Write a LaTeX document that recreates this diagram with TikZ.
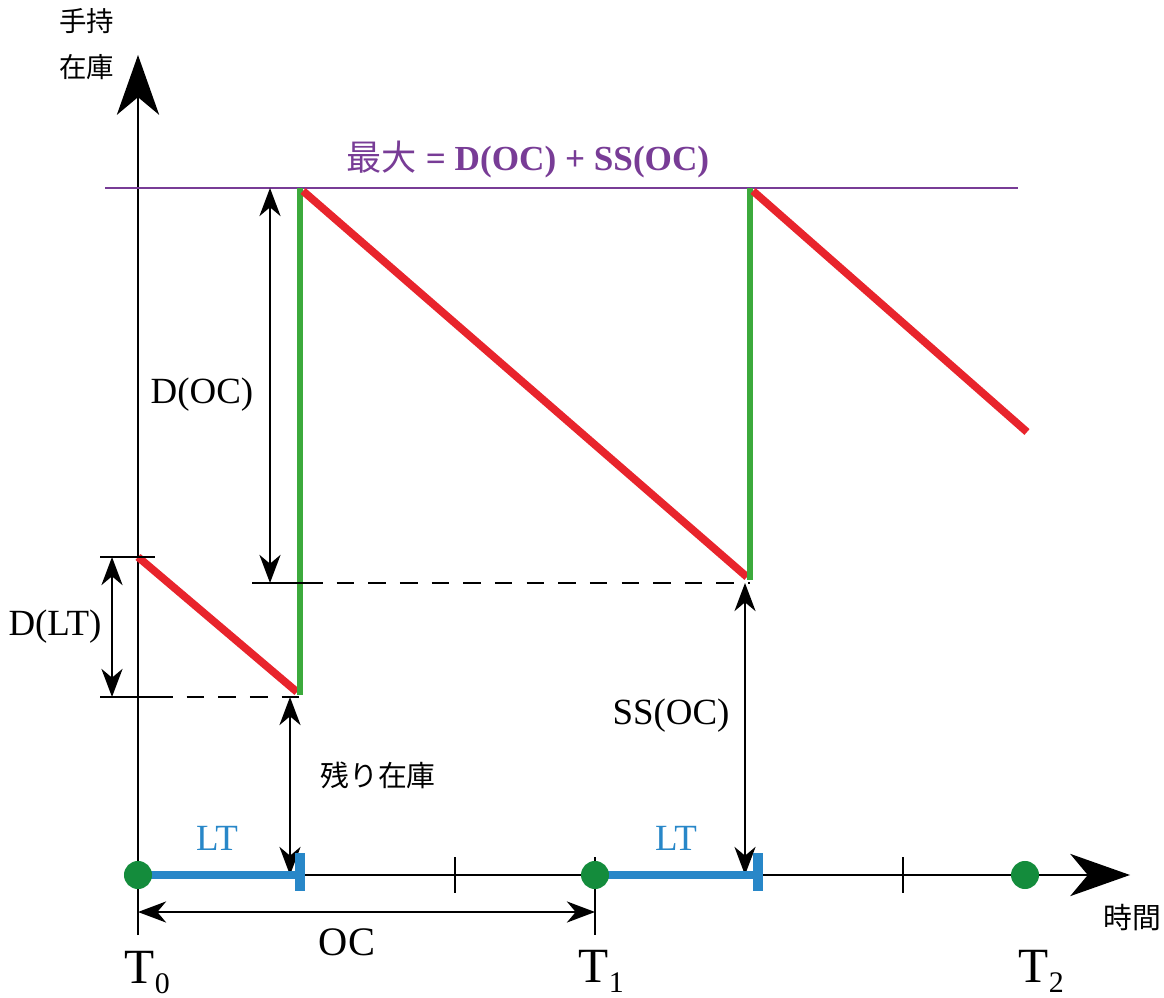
\documentclass[tikz,border=0pt]{standalone}
\usepackage{fontspec}
\setmainfont{Liberation Serif}
\newfontfamily\jp{Noto Sans CJK JP}
\usepackage{xcolor}
\usetikzlibrary{arrows.meta,positioning,calc}

\definecolor{invred}{RGB}{232,36,44}
\definecolor{invgreen}{RGB}{60,170,60}
\definecolor{invblue}{RGB}{40,135,200}
\definecolor{invpurple}{RGB}{120,60,150}
\definecolor{dotgreen}{RGB}{20,140,60}

\newcommand{\tsub}[1]{\raisebox{-3pt}{\fontsize{8.5pt}{9pt}\selectfont #1}}

\begin{document}
\begin{tikzpicture}[
    x=0.01cm, y=-0.01cm,
    axis/.style={draw=black, line width=0.7pt},
    bigtip/.style={-{Stealth[length=17pt, width=12pt, inset=5pt]}},
    dim/.style={draw=black, line width=0.6pt, {Stealth[length=8pt, width=6pt, inset=2.5pt]}-{Stealth[length=8pt, width=6pt, inset=2.5pt]}},
    tick/.style={draw=black, line width=0.7pt},
    guide/.style={draw=black, line width=0.7pt, dash pattern=on 5pt off 4pt},
    usage/.style={draw=invred, line width=2.2pt},
    refill/.style={draw=invgreen, line width=1.8pt},
    leadtime/.style={draw=invblue, line width=2pt},
    event/.style={circle, fill=dotgreen, inner sep=0pt, minimum size=0.28cm},
    lbl/.style={font=\fontsize{10.5pt}{12pt}\selectfont, inner sep=1pt},
    jplbl/.style={font=\jp\fontsize{8.2pt}{10pt}\selectfont, inner sep=1pt},
    tlbl/.style={font=\fontsize{14pt}{16pt}\selectfont, inner sep=0pt, anchor=base west}
]
    \useasboundingbox (0,0) rectangle (1164,998);

    % Axes
    \coordinate (ytop) at (138,55);
    \coordinate (ybot) at (138,935);
    \coordinate (xend) at (1130,875);
    \draw[axis, bigtip] (ybot) -- (ytop);
    \draw[axis, bigtip] (138,875) -- (xend);
    \node[jplbl, align=center, font=\jp\fontsize{7.8pt}{10pt}\selectfont] (ylab) at (87,44) {手持\\[3pt]在庫};
    \node[jplbl] (xlab) at (1132,918) {時間};

    % Ticks on time axis
    \draw[tick] (455,857) -- (455,893);
    \draw[tick] (903,857) -- (903,893);
    \draw[tick] (595,857) -- (595,935);

    % Maximum level
    \coordinate (maxl) at (105,188);
    \coordinate (maxr) at (1018,188);
    \draw[draw=invpurple, line width=0.8pt] (maxl) -- (maxr);
    \node[lbl, text=invpurple, font=\bfseries\fontsize{10pt}{12pt}\selectfont] (maxlab) at (528,160)
        {{\jp\mdseries 最大} = D(OC) + SS(OC)};

    % Inventory path
    \coordinate (a1) at (138,557);
    \coordinate (b1) at (300,695);
    \coordinate (c1) at (300,188);
    \coordinate (b2) at (750,580);
    \coordinate (c2) at (750,188);
    \coordinate (e2) at (1027,432);
    \draw[usage] (a1) -- ($(b1)+(-3,-3)$);
    \draw[refill] (b1) -- (c1);
    \draw[usage] ($(c1)+(3,3)$) -- ($(b2)+(-3,-3)$);
    \draw[refill] (b2) -- (c2);
    \draw[usage] ($(c2)+(3,3)$) -- (e2);

    % Guide lines
    \draw[tick] (100,557) -- (155,557);
    \draw[tick] (100,697) -- (155,697);
    \draw[guide] (155,697) -- (303,697);
    \draw[tick] (252,583) -- (305,583);
    \draw[guide] (305,583) -- (750,583);

    % Dimension arrows
    \draw[dim] (112,557) -- (112,697);
    \node[lbl] (dlt) at (55,627) {D(LT)};
    \draw[dim] (270,188) -- (270,583);
    \node[lbl] (doc) at (202,395) {D(OC)};
    \draw[dim] (290,697) -- (290,875);
    \node[jplbl] (rest) at (378,775) {残り在庫};
    \draw[dim] (745,583) -- (745,875);
    \node[lbl] (ss) at (671,716) {SS(OC)};
    \draw[dim] (138,912) -- (595,912);
    \node[lbl, font=\fontsize{11.5pt}{13pt}\selectfont] (oc) at (347,942) {OC};

    % Lead times
    \draw[leadtime] (138,875) -- (300,875);
    \draw[draw=invblue, line width=3pt] (300,853) -- (300,891);
    \node[lbl, text=invblue] (lt1) at (217,838) {LT};
    \draw[leadtime] (595,875) -- (758,875);
    \draw[draw=invblue, line width=3pt] (758,853) -- (758,891);
    \node[lbl, text=invblue] (lt2) at (676,838) {LT};

    % Order points
    \node[event] (t0) at (138,875) {};
    \node[event] (t1) at (595,875) {};
    \node[event] (t2) at (1025,875) {};
    \node[tlbl] (t0lab) at (124,983) {T\tsub{0}};
    \node[tlbl] (t1lab) at (578,982) {T\tsub{1}};
    \node[tlbl] (t2lab) at (1018,982) {T\tsub{2}};

\end{tikzpicture}
\end{document}
